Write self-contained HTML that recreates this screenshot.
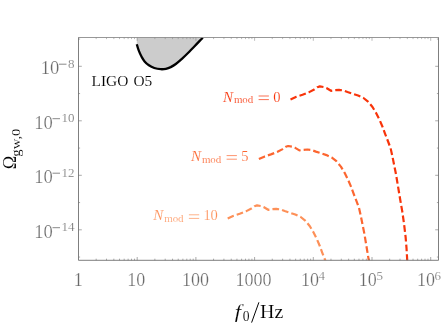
<!DOCTYPE html>
<html><head><meta charset="utf-8"><title>plot</title>
<style>html,body{margin:0;padding:0;background:#fff;overflow:hidden}svg{display:block}text{font-family:"Liberation Serif",serif}</style>
</head><body>
<svg width="443" height="327" viewBox="0 0 443 327">
<rect width="443" height="327" fill="#fff"/>
<path d="M136.8,44.2C137.1,45.3 138.0,48.5 138.8,50.6C139.6,52.7 140.6,54.9 141.6,56.7C142.6,58.5 143.4,60.0 144.6,61.4C145.8,62.8 147.3,64.2 148.9,65.3C150.5,66.4 152.3,67.3 154.3,68.0C156.3,68.7 158.9,69.1 160.8,69.2C162.7,69.3 164.2,69.2 165.9,68.8C167.6,68.4 169.0,67.9 170.7,67.1C172.3,66.3 173.9,65.4 175.8,64.0C177.7,62.6 179.9,60.6 181.9,58.8C183.9,57.0 186.0,55.0 188.0,53.0C190.0,51.0 192.2,48.6 194.1,46.7C196.0,44.8 197.8,42.9 199.2,41.4C200.6,39.9 202.2,38.3 202.8,37.7L136.8,37.5Z" fill="#cccccc"/>
<path d="M136.8,44.2C137.1,45.3 138.0,48.5 138.8,50.6C139.6,52.7 140.6,54.9 141.6,56.7C142.6,58.5 143.4,60.0 144.6,61.4C145.8,62.8 147.3,64.2 148.9,65.3C150.5,66.4 152.3,67.3 154.3,68.0C156.3,68.7 158.9,69.1 160.8,69.2C162.7,69.3 164.2,69.2 165.9,68.8C167.6,68.4 169.0,67.9 170.7,67.1C172.3,66.3 173.9,65.4 175.8,64.0C177.7,62.6 179.9,60.6 181.9,58.8C183.9,57.0 186.0,55.0 188.0,53.0C190.0,51.0 192.2,48.6 194.1,46.7C196.0,44.8 197.8,42.9 199.2,41.4C200.6,39.9 202.2,38.3 202.8,37.7" fill="none" stroke="#000" stroke-width="2.3"/>
<clipPath id="cp"><rect x="78.5" y="37.5" width="360.0" height="222.8"/></clipPath>
<g clip-path="url(#cp)"><path transform="translate(0,0)" d="M290.5,99.5L296.4,96.8L302.5,94.8L308.7,92.4L314.2,89.5L317.4,87.2L319.8,86.4L323.7,87.0L326.4,88.0L331.0,90.8L335.2,90.2L339.0,89.9L343.2,90.4L347.5,92.0L351.1,93.2L358.1,95.5L363.5,98.0L368.0,101.6L372.5,107.0L376.1,113.0L379.7,120.2L382.4,126.5L385.1,133.8L387.9,141.0L390.6,148.2L392.4,156.3L394.2,165.3L396.0,174.3L397.8,185.1L399.6,196.0L400.1,199.0L402.3,211.6L404.1,224.3L405.6,236.9L406.5,247.8L407.2,260.0L407.3,262.0" fill="none" stroke="#f8340a" stroke-width="2.2" stroke-dasharray="6.7 3.05" stroke-linejoin="round"/></g>
<g clip-path="url(#cp)"><path transform="translate(-31.6,59.6)" d="M290.5,99.5L296.4,96.8L302.5,94.8L308.7,92.4L314.2,89.5L317.4,87.2L319.8,86.4L323.7,87.0L326.4,88.0L331.0,90.8L335.2,90.2L339.0,89.9L343.2,90.4L347.5,92.0L351.1,93.2L358.1,95.5L363.5,98.0L368.0,101.6L372.5,107.0L376.1,113.0L379.7,120.2L382.4,126.5L385.1,133.8L387.9,141.0L390.6,148.2L392.4,156.3L394.2,165.3L396.0,174.3L397.8,185.1L399.6,196.0L400.1,199.0L402.3,211.6L404.1,224.3L405.6,236.9L406.5,247.8L407.2,260.0L407.3,262.0" fill="none" stroke="#fc6630" stroke-width="2.2" stroke-dasharray="6.7 3.05" stroke-linejoin="round"/></g>
<g clip-path="url(#cp)"><path transform="translate(-62.8,119.0)" d="M290.5,99.5L296.4,96.8L302.5,94.8L308.7,92.4L314.2,89.5L317.4,87.2L319.8,86.4L323.7,87.0L326.4,88.0L331.0,90.8L335.2,90.2L339.0,89.9L343.2,90.4L347.5,92.0L351.1,93.2L358.1,95.5L363.5,98.0L368.0,101.6L372.5,107.0L376.1,113.0L379.7,120.2L382.4,126.5L385.1,133.8L387.9,141.0L390.6,148.2L392.4,156.3L394.2,165.3L396.0,174.3L397.8,185.1L399.6,196.0L400.1,199.0L402.3,211.6L404.1,224.3L405.6,236.9L406.5,247.8L407.2,260.0L407.3,262.0" fill="none" stroke="#fd9058" stroke-width="2.2" stroke-dasharray="6.7 3.05" stroke-linejoin="round"/></g>
<path d="M78.5,37.5V260.3H438.5V37.5" fill="none" stroke="#707070" stroke-width="0.9"/>
<path d="M78.05,37.5H438.95" fill="none" stroke="#8c8c8c" stroke-width="0.9"/>
<path d="M96.17,260.3v-1.6M106.51,260.3v-1.6M113.84,260.3v-1.6M119.53,260.3v-1.6M124.18,260.3v-1.6M128.11,260.3v-1.6M131.51,260.3v-1.6M134.51,260.3v-1.6M137.20,260.3v-3.3M154.87,260.3v-1.6M165.21,260.3v-1.6M172.54,260.3v-1.6M178.23,260.3v-1.6M182.88,260.3v-1.6M186.81,260.3v-1.6M190.21,260.3v-1.6M193.21,260.3v-1.6M195.90,260.3v-3.3M213.57,260.3v-1.6M223.91,260.3v-1.6M231.24,260.3v-1.6M236.93,260.3v-1.6M241.58,260.3v-1.6M245.51,260.3v-1.6M248.91,260.3v-1.6M251.91,260.3v-1.6M254.60,260.3v-3.3M272.27,260.3v-1.6M282.61,260.3v-1.6M289.94,260.3v-1.6M295.63,260.3v-1.6M300.28,260.3v-1.6M304.21,260.3v-1.6M307.61,260.3v-1.6M310.61,260.3v-1.6M313.30,260.3v-3.3M330.97,260.3v-1.6M341.31,260.3v-1.6M348.64,260.3v-1.6M354.33,260.3v-1.6M358.98,260.3v-1.6M362.91,260.3v-1.6M366.31,260.3v-1.6M369.31,260.3v-1.6M372.00,260.3v-3.3M389.67,260.3v-1.6M400.01,260.3v-1.6M407.34,260.3v-1.6M413.03,260.3v-1.6M417.68,260.3v-1.6M421.61,260.3v-1.6M425.01,260.3v-1.6M428.01,260.3v-1.6M430.70,260.3v-3.3" fill="none" stroke="#707070" stroke-width="0.6"/>
<path d="M96.17,37.5v1.6M106.51,37.5v1.6M113.84,37.5v1.6M119.53,37.5v1.6M124.18,37.5v1.6M128.11,37.5v1.6M131.51,37.5v1.6M134.51,37.5v1.6M137.20,37.5v3.3M154.87,37.5v1.6M165.21,37.5v1.6M172.54,37.5v1.6M178.23,37.5v1.6M182.88,37.5v1.6M186.81,37.5v1.6M190.21,37.5v1.6M193.21,37.5v1.6M195.90,37.5v3.3M213.57,37.5v1.6M223.91,37.5v1.6M231.24,37.5v1.6M236.93,37.5v1.6M241.58,37.5v1.6M245.51,37.5v1.6M248.91,37.5v1.6M251.91,37.5v1.6M254.60,37.5v3.3M272.27,37.5v1.6M282.61,37.5v1.6M289.94,37.5v1.6M295.63,37.5v1.6M300.28,37.5v1.6M304.21,37.5v1.6M307.61,37.5v1.6M310.61,37.5v1.6M313.30,37.5v3.3M330.97,37.5v1.6M341.31,37.5v1.6M348.64,37.5v1.6M354.33,37.5v1.6M358.98,37.5v1.6M362.91,37.5v1.6M366.31,37.5v1.6M369.31,37.5v1.6M372.00,37.5v3.3M389.67,37.5v1.6M400.01,37.5v1.6M407.34,37.5v1.6M413.03,37.5v1.6M417.68,37.5v1.6M421.61,37.5v1.6M425.01,37.5v1.6M428.01,37.5v1.6M430.70,37.5v3.3" fill="none" stroke="#858585" stroke-width="0.55"/>
<path d="M78.5,257.05h1.6M438.5,257.05h-1.6M78.5,229.80h3.3M438.5,229.80h-3.3M78.5,202.55h1.6M438.5,202.55h-1.6M78.5,175.30h3.3M438.5,175.30h-3.3M78.5,148.05h1.6M438.5,148.05h-1.6M78.5,120.80h3.3M438.5,120.80h-3.3M78.5,93.55h1.6M438.5,93.55h-1.6M78.5,66.30h3.3M438.5,66.30h-3.3M78.5,39.05h1.6M438.5,39.05h-1.6" fill="none" stroke="#707070" stroke-width="0.6"/>
<g opacity="0.999">
<text x="73.8" y="286.3" font-size="18" fill="#6a6a6a" stroke="#fff" stroke-width="0.22">1</text>
<text x="127.3" y="286.3" font-size="18" fill="#6a6a6a" stroke="#fff" stroke-width="0.22">10</text>
<text x="182.1" y="286.3" font-size="18" fill="#6a6a6a" stroke="#fff" stroke-width="0.22">100</text>
<text x="235.6" y="286.3" font-size="18" fill="#6a6a6a" stroke="#fff" stroke-width="0.22">1000</text>
<text x="300.9" y="286.3" font-size="18" fill="#6a6a6a" stroke="#fff" stroke-width="0.22">10<tspan font-size="13" dy="-6.6" dx="-0.3">4</tspan></text>
<text x="358.8" y="286.3" font-size="18" fill="#6a6a6a" stroke="#fff" stroke-width="0.22">10<tspan font-size="13" dy="-6.6" dx="-0.3">5</tspan></text>
<text x="416.9" y="286.3" font-size="18" fill="#6a6a6a" stroke="#fff" stroke-width="0.22">10<tspan font-size="13" dy="-6.6" dx="-0.3">6</tspan></text>
<text x="74.4" y="67.7" font-size="13" fill="#6a6a6a" text-anchor="end" stroke="#fff" stroke-width="0.22">8</text>
<path d="M59.0,64.2H66.5" stroke="#6a6a6a" stroke-width="0.8" fill="none"/>
<text x="40.8" y="74.3" font-size="18" fill="#6a6a6a" textLength="18.6" lengthAdjust="spacingAndGlyphs" stroke="#fff" stroke-width="0.22">10</text>
<text x="74.4" y="122.2" font-size="13" fill="#6a6a6a" text-anchor="end" stroke="#fff" stroke-width="0.22">10</text>
<path d="M52.5,118.7H60.0" stroke="#6a6a6a" stroke-width="0.8" fill="none"/>
<text x="34.3" y="128.8" font-size="18" fill="#6a6a6a" textLength="18.6" lengthAdjust="spacingAndGlyphs" stroke="#fff" stroke-width="0.22">10</text>
<text x="74.4" y="176.7" font-size="13" fill="#6a6a6a" text-anchor="end" stroke="#fff" stroke-width="0.22">12</text>
<path d="M52.5,173.2H60.0" stroke="#6a6a6a" stroke-width="0.8" fill="none"/>
<text x="34.3" y="183.3" font-size="18" fill="#6a6a6a" textLength="18.6" lengthAdjust="spacingAndGlyphs" stroke="#fff" stroke-width="0.22">10</text>
<text x="74.4" y="231.2" font-size="13" fill="#6a6a6a" text-anchor="end" stroke="#fff" stroke-width="0.22">14</text>
<path d="M52.5,227.7H60.0" stroke="#6a6a6a" stroke-width="0.8" fill="none"/>
<text x="34.3" y="237.8" font-size="18" fill="#6a6a6a" textLength="18.6" lengthAdjust="spacingAndGlyphs" stroke="#fff" stroke-width="0.22">10</text>
<text x="91.5" y="86" font-size="15.4" fill="#000" word-spacing="1.4" stroke="#fff" stroke-width="0.1">LIGO O5</text>
<text x="222.9" y="101.5" font-size="15" font-style="italic" fill="#f8340a" stroke="#fff" stroke-width="0.15">N</text><text x="233.9" y="103.2" font-size="10.9" fill="#f8340a" stroke="#fff" stroke-width="0.15">mod</text><path d="M258.6,96.0h10.3M258.6,99.6h10.3" stroke="#f8340a" stroke-width="0.7" fill="none"/><text x="273.3" y="101.5" font-size="14.5" letter-spacing="-0.25" fill="#f8340a" stroke="#fff" stroke-width="0.15">0</text>
<text x="190.9" y="161.1" font-size="15" font-style="italic" fill="#fc6630" stroke="#fff" stroke-width="0.15">N</text><text x="201.9" y="162.8" font-size="10.9" fill="#fc6630" stroke="#fff" stroke-width="0.15">mod</text><path d="M226.6,155.6h10.3M226.6,159.2h10.3" stroke="#fc6630" stroke-width="0.7" fill="none"/><text x="241.3" y="161.1" font-size="14.5" letter-spacing="-0.25" fill="#fc6630" stroke="#fff" stroke-width="0.15">5</text>
<text x="153.2" y="220.3" font-size="15" font-style="italic" fill="#fd9058" stroke="#fff" stroke-width="0.15">N</text><text x="164.2" y="222.0" font-size="10.9" fill="#fd9058" stroke="#fff" stroke-width="0.15">mod</text><path d="M188.9,214.8h10.3M188.9,218.4h10.3" stroke="#fd9058" stroke-width="0.7" fill="none"/><text x="203.6" y="220.3" font-size="14.5" letter-spacing="-0.25" fill="#fd9058" stroke="#fff" stroke-width="0.15">10</text>
<g transform="translate(16.4,169.3) rotate(-90)"><text x="0" y="0" font-size="18" fill="#000" stroke="#fff" stroke-width="0.1">Ω</text><text x="12.6" y="3.1" font-size="13" textLength="28.2" lengthAdjust="spacingAndGlyphs" fill="#000" stroke="#fff" stroke-width="0.1">gw,0</text></g>
<text x="234.7" y="318.4" font-size="18" font-style="italic" textLength="6.3" lengthAdjust="spacingAndGlyphs" fill="#000" stroke="#fff" stroke-width="0.1">f</text>
<text x="242.7" y="320.8" font-size="13.6" fill="#000" stroke="#fff" stroke-width="0.1">0</text>
<path d="M251.6,322.6L258.9,302.3" stroke="#000" stroke-width="1.0" fill="none"/>
<text x="260.1" y="318.4" font-size="18" fill="#000" textLength="23.2" lengthAdjust="spacingAndGlyphs" stroke="#fff" stroke-width="0.1">Hz</text>
</g>
</svg></body></html>
